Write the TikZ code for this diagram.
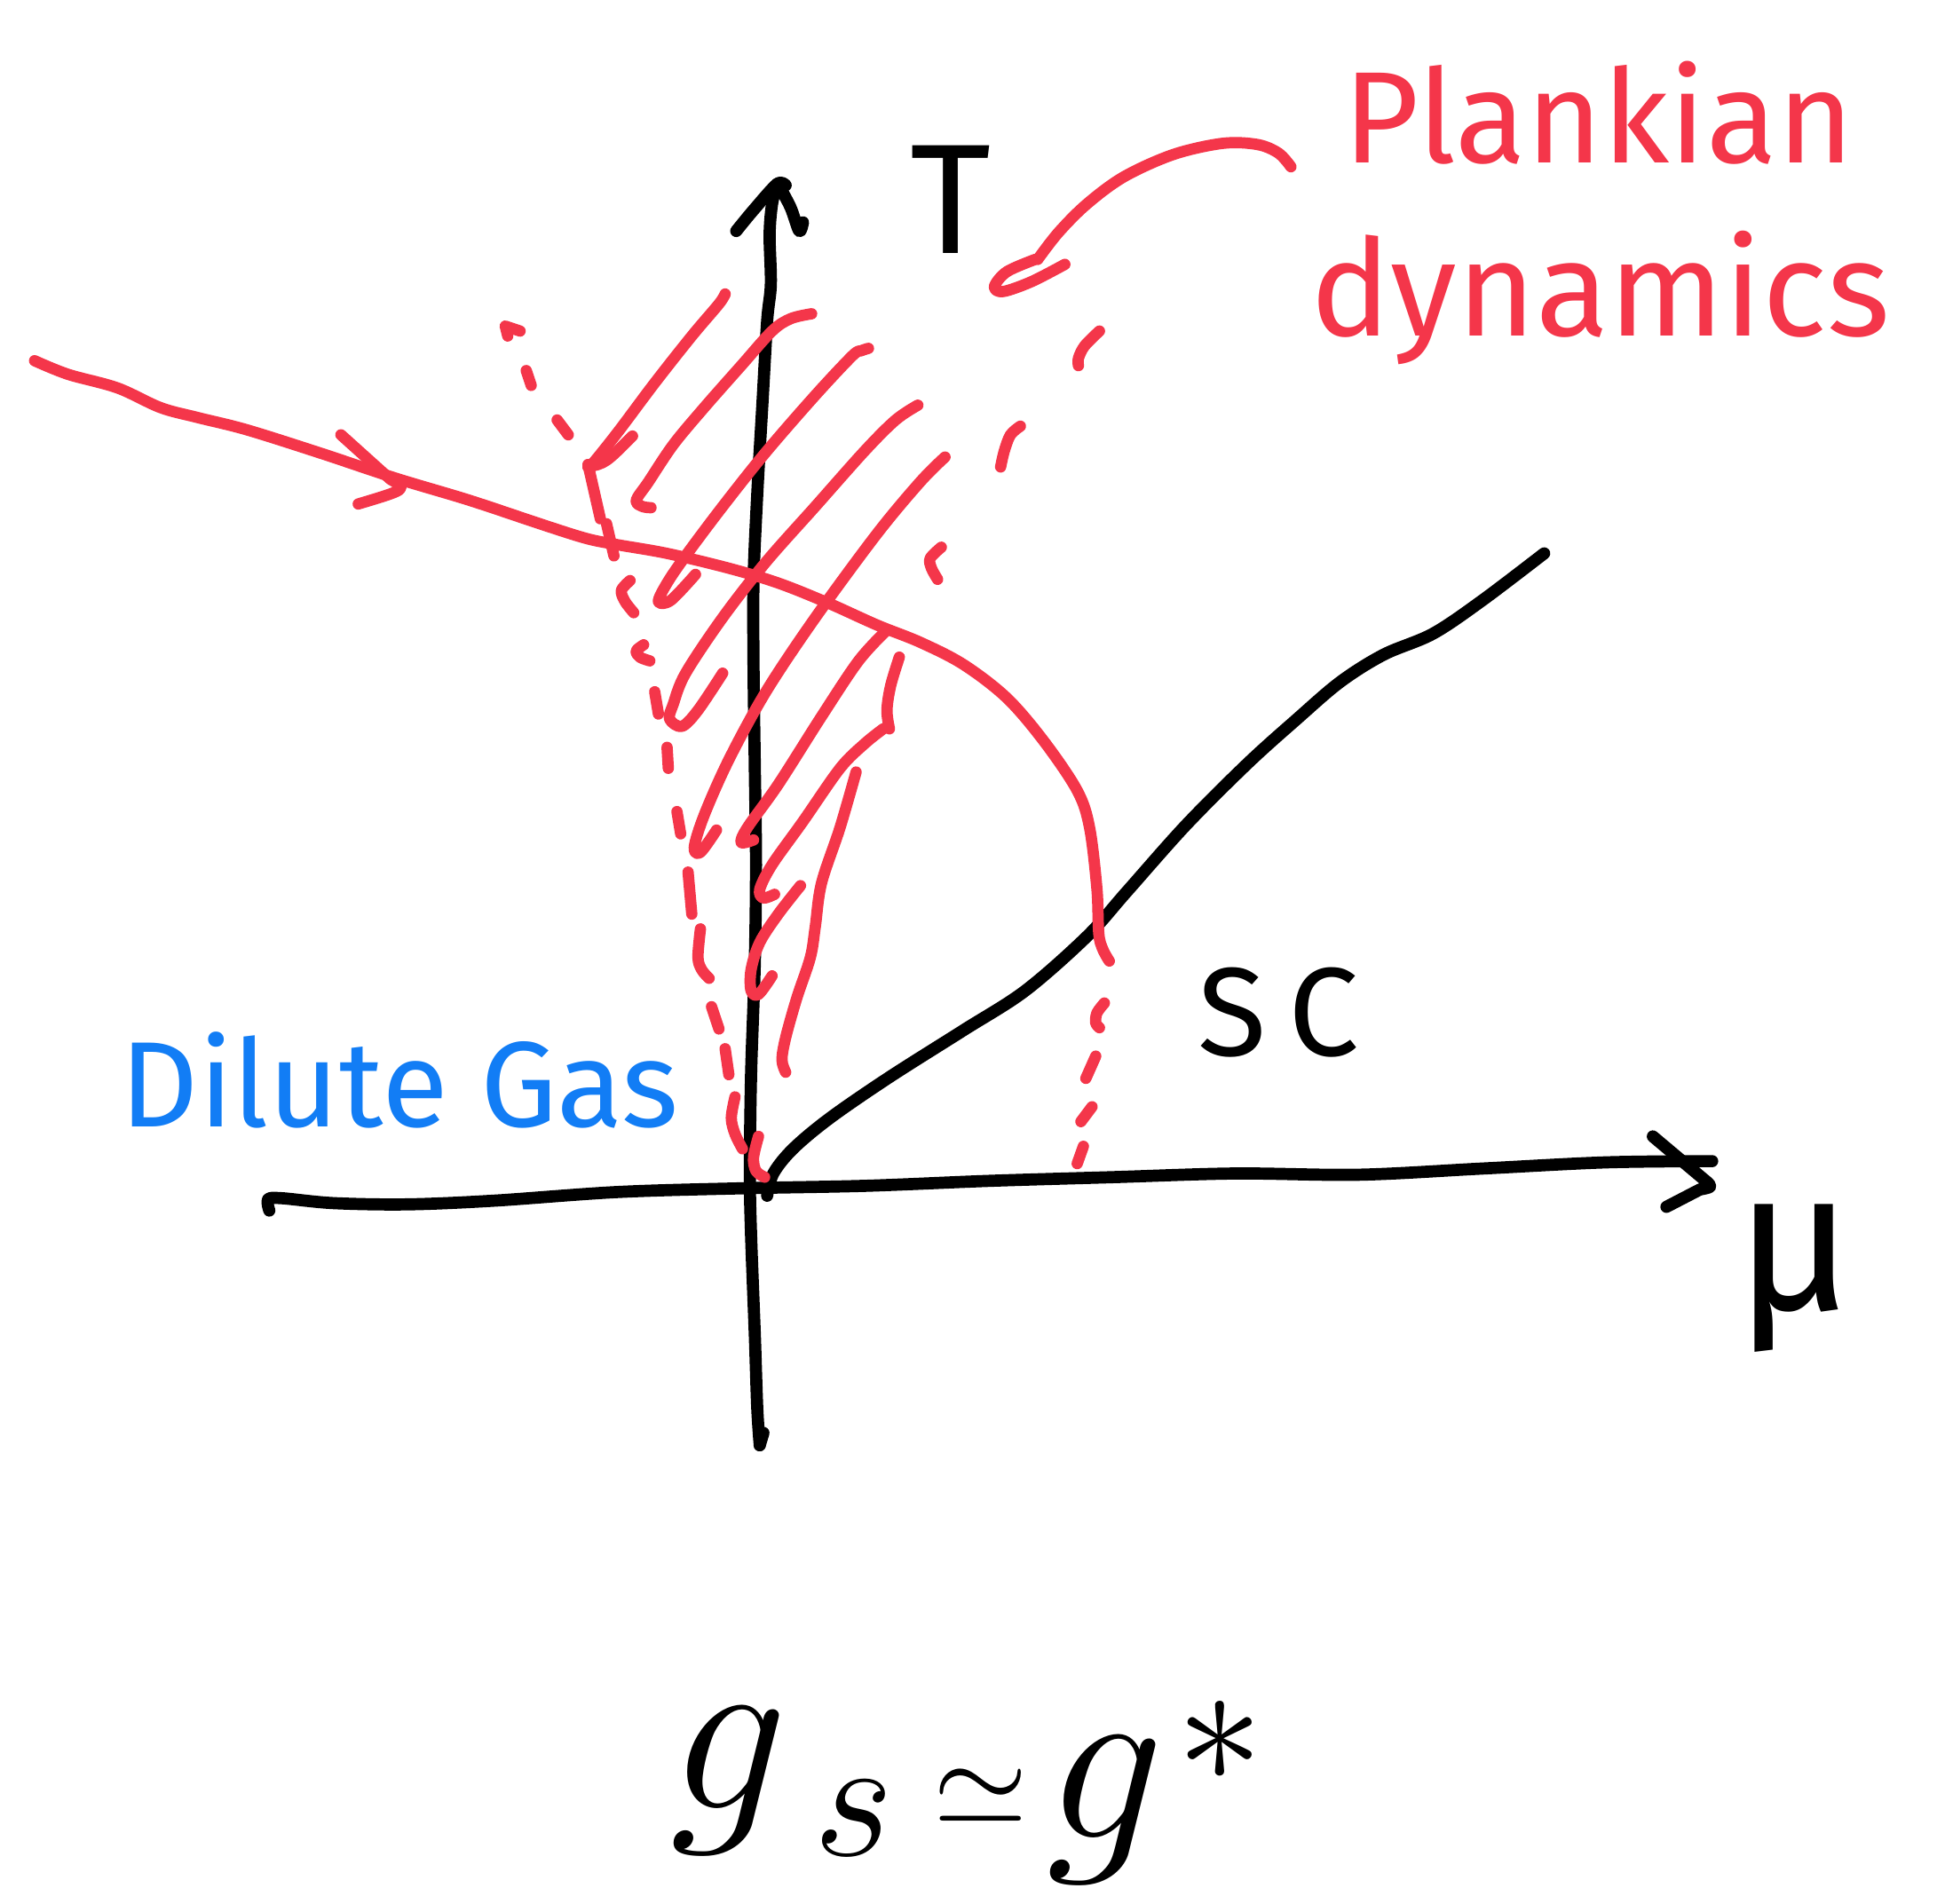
\documentclass[tikz,border=0pt]{standalone}
\usepackage{fix-cm}
\usepackage{fontspec}
\setmainfont{Fira Sans}
\definecolor{pred}{RGB}{244,54,74}
\definecolor{pblue}{RGB}{18,125,245}
\begin{document}
\begin{tikzpicture}[x=0.01cm,y=-0.01cm,line cap=round,line join=round,
  ink/.style={line width=2.8pt,black},
  rink/.style={line width=2.6pt,pred},
  sm/.style={smooth,tension=0.55}]
\fill[white] (0,0) rectangle (1568,1541);
\useasboundingbox (0,0) rectangle (1568,1541);

% ---- T axis ----
\draw[ink] plot[sm] coordinates {(615,1170)(613,1140)(611,1080)(608,1000)(607,950)(608,870)(611,780)(612,700)(611,620)(610,540)(610,470)(613,400)(617,330)(621,260)(624,230)(623,190)(625,165)(629,149)};
\draw[ink] (615,1170) -- (618,1160);
\draw[ink] plot[sm] coordinates {(596,187)(610,170)(629,149)(636,150)};
\draw[ink] plot[sm] coordinates {(631,151)(640,168)(647,187)(650,180)};

% ---- mu axis ----
\draw[ink] plot[sm] coordinates {(218,980)(217,971)(228,970)(270,974)(330,975)(400,972)(500,965)(600,962)(700,960)(800,956)(900,953)(1000,950)(1100,951)(1200,946)(1300,941)(1386,940)};
\draw[ink] (1338,920) -- (1382,957) .. controls (1386,961) .. (1376,963) -- (1349,977);

% ---- SC boundary ----
\draw[ink] plot[sm] coordinates {(621,968)(626,950)(642,930)(672,905)(720,872)(780,834)(830,802)(880,758)(912,722)(960,668)(1010,618)(1050,582)(1085,552)(1120,530)(1160,513)(1200,486)(1250,448)};

% ---- labels ----
\node[font=\fontsize{36}{40}\selectfont,anchor=base,inner sep=0pt] (tlabel) at (770,205) {T};
\node[font=\fontsize{46}{50}\selectfont,anchor=base,inner sep=0pt] (mulabel) at (1453,1060) {μ};
\node[font=\fontsize{29}{32}\selectfont,anchor=base,inner sep=0pt] (sclabel) at (1035,855) {S\hspace{0.18em}C};
\node[font=\fontsize{28}{32}\selectfont,anchor=base west,text=pblue,inner sep=0pt] (gas) at (97,912) {Dilute Gas};
\node[font=\fontsize{30}{34}\selectfont,anchor=base west,text=pred,inner sep=0pt] (plank1) at (1087,132) {Plankian};
\node[font=\fontsize{31}{34}\selectfont,anchor=base west,text=pred,inner sep=0pt] (plank2) at (1060,272) {dynamics};

% ---- formula g_s ~= g* ----
\node[font=\fontsize{54}{58}\selectfont,anchor=base,inner sep=0pt] (fg1) at (590,1464) {$g$};
\node[font=\fontsize{40}{44}\selectfont,anchor=base,inner sep=0pt] (fs) at (691,1502) {$s$};
\node[font=\fontsize{28}{32}\selectfont,anchor=center,inner sep=0pt] (fsim) at (794,1455) {$\simeq$};
\node[font=\fontsize{54}{58}\selectfont,anchor=base,inner sep=0pt] (fg2) at (895,1488) {$g$};
\node[font=\fontsize{40}{44}\selectfont,anchor=center,inner sep=0pt] (fast) at (988,1410) {$\ast$};

% ---- red crossover curve ----
\draw[rink] plot[sm] coordinates {(28,292)(55,303)(95,314)(130,330)(160,338)(200,348)(260,367)(320,387)(380,405)(440,425)(475,436)(500,441)(540,448)(590,460)(630,472)(670,488)(710,506)(745,520)(780,538)(815,565)(845,600)(872,640)(882,670)(888,720)(890,760)(898,778)};
\draw[rink] (276,352) -- (316,388) .. controls (330,396) .. (290,408);

% ---- arrow from label ----
\draw[rink] plot[sm] coordinates {(1045,135)(1035,124)(1018,117)(990,116)(950,125)(910,143)(880,165)(857,188)(840,210)};
\draw[rink] plot[sm] coordinates {(838,210)(815,220)(805,232)(812,236)(835,228)(862,214)};

% ---- hatching ----
\draw[rink] plot[sm] coordinates {(587,238)(582,246)(560,272)(530,310)(500,350)(480,375)(476,378)};
\draw[rink] (476,378) .. controls (490,375) .. (512,353);
\draw[rink] (476,376) -- (486,420);
\draw[rink] plot[sm] coordinates {(657,254)(640,258)(625,268)(600,296)(570,330)(545,360)(525,390)(515,405)(520,410)(527,411)};
\draw[rink] plot[sm] coordinates {(703,282)(697,284)(690,288)(660,320)(620,366)(585,410)(555,450)(540,472)(533,487)(543,486)(563,465)};
\draw[rink] plot[sm] coordinates {(743,328)(725,340)(700,365)(660,410)(620,455)(585,500)(555,545)(545,570)(542,582)(552,588)(565,575)(585,545)};
\draw[rink] plot[sm] coordinates {(765,370)(745,390)(710,432)(660,500)(620,560)(590,615)(570,660)(562,686)(567,690)(580,672)};
\draw[rink] plot[sm] coordinates {(718,510)(695,535)(665,580)(630,635)(605,670)(600,682)(610,680)};
\draw[rink] plot[sm] coordinates {(728,532)(721,555)(718,575)(720,590)};
\draw[rink] plot[sm] coordinates {(715,590)(700,602)(680,622)(650,665)(625,700)(615,720)(618,727)(627,724)};
\draw[rink] plot[sm] coordinates {(648,717)(630,740)(615,763)(608,785)(608,802)(614,805)(625,790)};
\draw[rink] plot[sm] coordinates {(693,625)(680,670)(665,715)(660,750)(656,775)(645,808)(636,840)(633,858)(636,868)};

% ---- left dashed boundary ----
\draw[rink] (411,272) -- (409,264) -- (421,268);
\draw[rink] (426,300) -- (430,312);
\draw[rink] (451,340) -- (460,352);
\draw[rink] (491,424) -- (497,450);
\draw[rink] plot[sm] coordinates {(510,470)(503,478)(506,487)(513,496)};
\draw[rink] plot[sm] coordinates {(521,522)(515,527)(518,532)(526,535)};
\draw[rink] (530,560) -- (533,578);
\draw[rink] (540,605) -- (541,622);
\draw[rink] (548,657) -- (551,675);
\draw[rink] (557,706) -- (560,740);
\draw[rink] plot[sm] coordinates {(567,752)(565,775)(568,785)(574,792)};
\draw[rink] (576,815) -- (582,833);
\draw[rink] (587,849) -- (590,870);
\draw[rink] plot[sm] coordinates {(595,888)(592,905)(595,918)(601,930)};
\draw[rink] plot[sm] coordinates {(614,920)(610,937)(612,948)(619,953)};

% ---- right dashed boundary ----
\draw[rink] plot[sm] coordinates {(890,268)(878,280)(873,290)(873,296)};
\draw[rink] plot[sm] coordinates {(826,345)(818,352)(813,365)(810,378)};
\draw[rink] plot[sm] coordinates {(762,443)(753,452)(754,460)(759,469)};
\draw[rink] plot[sm] coordinates {(894,812)(888,820)(887,828)(890,832)};
\draw[rink] (887,855) -- (879,873);
\draw[rink] (884,896) -- (875,908);
\draw[rink] (877,928) -- (872,942);
\end{tikzpicture}
\end{document}
